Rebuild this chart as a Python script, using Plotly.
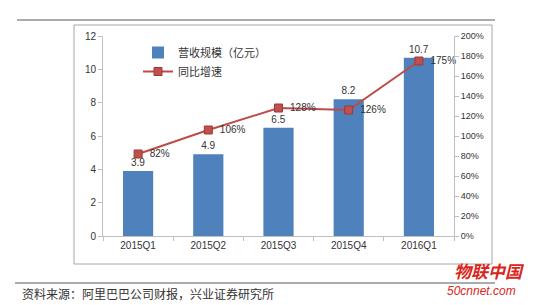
import plotly.graph_objects as go

categories = ["2015Q1", "2015Q2", "2015Q3", "2015Q4", "2016Q1"]
revenue = [3.9, 4.9, 6.5, 8.2, 10.7]
growth = [0.82, 1.06, 1.28, 1.26, 1.75]
growth_labels = ["82%", "106%", "128%", "126%", "175%"]
bar_name = "营收规模（亿元）"
line_name = "同比增速"
source_text = "资料来源：阿里巴巴公司财报，兴业证券研究所"

W, H = 545, 305
L, R, T, B = 103, 454, 36, 236

def px(x):
    return (x - L) / (R - L)

def py(y):
    return (B - y) / (B - T)

fig = go.Figure()
fig.add_trace(go.Bar(
    x=categories, y=revenue, name=bar_name,
    marker=dict(color="#4F81BD", line=dict(width=0)),
    width=0.43,
    text=[f"{v}" for v in revenue], textposition="outside",
    textfont=dict(size=10, color="#333333"),
    cliponaxis=False,
))
fig.add_trace(go.Scatter(
    x=categories, y=growth, name=line_name, yaxis="y2",
    mode="lines+markers+text",
    line=dict(color="#BE4B48", width=2),
    marker=dict(symbol="square", size=8, color="#C0504D", line=dict(color="#9B3B38", width=1)),
    text=["  " + t for t in growth_labels], textposition="middle right",
    textfont=dict(size=10, color="#333333"),
    cliponaxis=False,
))

font_main = "Liberation Sans, Arial, sans-serif"
fig.update_layout(
    width=W, height=H,
    margin=dict(l=L, r=W - R, t=T, b=H - B),
    paper_bgcolor="white", plot_bgcolor="white",
    font=dict(family=font_main, size=10, color="#333333"),
    showlegend=True,
    legend=dict(x=px(138), y=py(38), xanchor="left", yanchor="top",
                bgcolor="rgba(0,0,0,0)", font=dict(size=11, family="Noto Sans CJK SC"),
                itemwidth=30, tracegroupgap=2),
    bargap=0.57,
    xaxis=dict(
        showline=True, linecolor="#BFBFBF", linewidth=1,
        ticks="outside", tickson="boundaries", ticklen=4, tickcolor="#BFBFBF",
        showgrid=False, tickfont=dict(size=10, color="#333333"),
    ),
    yaxis=dict(
        range=[0, 12], dtick=2, showgrid=False, zeroline=False,
        showline=True, linecolor="#BFBFBF", linewidth=1,
        ticks="outside", ticklen=4, tickcolor="#BFBFBF",
        tickfont=dict(size=10, color="#333333"),
    ),
    yaxis2=dict(
        range=[0, 2], dtick=0.2, tickformat=".0%", overlaying="y", side="right",
        showgrid=False, zeroline=False,
        showline=True, linecolor="#BFBFBF", linewidth=1,
        ticks="outside", ticklen=4, tickcolor="#BFBFBF",
        tickfont=dict(size=9, color="#333333"),
    ),
    shapes=[
        dict(type="rect", xref="paper", yref="paper",
             x0=px(74), x1=px(492), y0=py(264), y1=py(25),
             line=dict(color="#A6A6A6", width=1), layer="below"),
        dict(type="line", xref="paper", yref="paper",
             x0=px(17), x1=px(495), y0=py(20), y1=py(20),
             line=dict(color="#595959", width=1)),
        dict(type="line", xref="paper", yref="paper",
             x0=px(15), x1=px(495), y0=py(283), y1=py(283),
             line=dict(color="#595959", width=1)),
    ],
    annotations=[
        dict(text=source_text, xref="paper", yref="paper",
             x=px(20), y=py(293), xanchor="left", yanchor="middle",
             showarrow=False, font=dict(size=12, color="#333333", family="Noto Sans CJK SC")),
        dict(text="<b><i>物联中国</i></b>", xref="paper", yref="paper",
             x=px(452), y=py(270), xanchor="left", yanchor="middle",
             showarrow=False, font=dict(size=17, color="#D9261C", family="Noto Sans CJK SC")),
        dict(text="<i>50cnnet.com</i>", xref="paper", yref="paper",
             x=px(445), y=py(291), xanchor="left", yanchor="middle",
             showarrow=False, font=dict(size=12, color="#D9261C", family=font_main)),
    ],
)

fig.write_html("out.html")
